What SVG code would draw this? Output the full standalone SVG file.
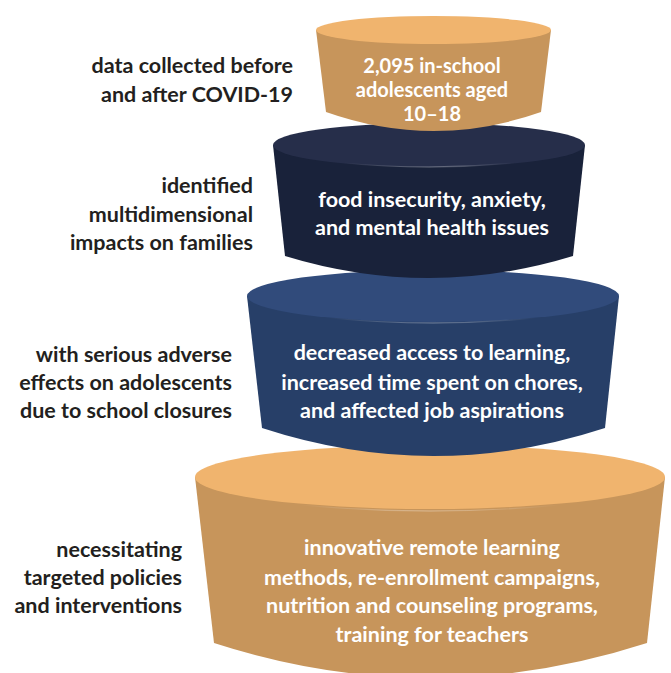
<svg xmlns="http://www.w3.org/2000/svg" width="671" height="673" viewBox="0 0 671 673">
  <style>
    .label { font-family: Lato, "Liberation Sans", sans-serif; font-weight: 700; font-size: 21.5px; fill: #231f20; text-anchor: end; }
    .inner { font-family: Lato, "Liberation Sans", sans-serif; font-weight: 700; font-size: 21.5px; fill: #ffffff; text-anchor: middle; }
    .inner.small { font-size: 20px; }
    .tan .body { fill: #c7955b; }
    .tan .top { fill: #f0b46e; }
    .navy .body { fill: #19223a; }
    .navy .top { fill: #262e4a; }
    .blue .body { fill: #273f68; }
    .blue .top { fill: #314b7b; }
    .rim { fill: none; stroke: url(#rimGlow); stroke-width: 1.2; }
  </style>
  <defs>
    <linearGradient id="rimGlow" x1="0" y1="0" x2="1" y2="0">
      <stop offset="0" stop-color="#ffffff" stop-opacity="0"/>
      <stop offset="0.5" stop-color="#ffffff" stop-opacity="0.35"/>
      <stop offset="1" stop-color="#ffffff" stop-opacity="0"/>
    </linearGradient>
  </defs>
  <rect width="671" height="673" fill="#ffffff"/>

  <!-- tiers are stacked bottom-up so each upper tier overlaps the rim below -->
  <g id="tier4" class="tan">
    <path class="body" d="M195,477 L214,643 Q430.5,713 647,643 L665,477 Z"/>
    <ellipse class="top" cx="430" cy="477" rx="235" ry="32"/>
    <path class="rim" d="M300,505 Q430,517 560,505"/>
    <text class="inner" x="432" y="555">innovative remote learning</text>
    <text class="inner" x="432" y="585">methods, re-enrollment campaigns,</text>
    <text class="inner" x="432" y="613">nutrition and counseling programs,</text>
    <text class="inner" x="432" y="642">training for teachers</text>
  </g>

  <g id="tier3" class="blue">
    <path class="body" d="M247,296 L262,428 Q433.5,484 605,428 L619,296 Z"/>
    <ellipse class="top" cx="433" cy="296" rx="186" ry="26"/>
    <path class="rim" d="M330,318 Q433,328 536,318"/>
    <text class="inner" x="432" y="360">decreased access to learning,</text>
    <text class="inner" x="432" y="390">increased time spent on chores,</text>
    <text class="inner" x="432" y="418">and affected job aspirations</text>
  </g>

  <g id="tier2" class="navy">
    <path class="body" d="M273,145 L285,256 Q429,300 573,256 L585,145 Z"/>
    <ellipse class="top" cx="429" cy="145" rx="156" ry="22"/>
    <path class="rim" d="M343,163 Q429,171 515,163"/>
    <text class="inner" x="432" y="207">food insecurity, anxiety,</text>
    <text class="inner" x="432" y="235">and mental health issues</text>
  </g>

  <g id="tier1" class="tan">
    <path class="body" d="M316,30 L326,112 Q433.5,150 541,112 L551,30 Z"/>
    <ellipse class="top" cx="433.5" cy="30" rx="117.5" ry="14"/>
    <text class="inner small" x="432" y="73">2,095 in-school</text>
    <text class="inner small" x="432" y="97">adolescents aged</text>
    <text class="inner small" x="432" y="121">10–18</text>
  </g>

  <!-- side captions -->
  <g id="caption1">
    <text class="label" x="293" y="73">data collected before</text>
    <text class="label" x="293" y="102">and after COVID-19</text>
  </g>
  <g id="caption2">
    <text class="label" x="253" y="193">identified</text>
    <text class="label" x="253" y="222">multidimensional</text>
    <text class="label" x="253" y="250">impacts on families</text>
  </g>
  <g id="caption3">
    <text class="label" x="232" y="362">with serious adverse</text>
    <text class="label" x="232" y="390">effects on adolescents</text>
    <text class="label" x="232" y="418">due to school closures</text>
  </g>
  <g id="caption4">
    <text class="label" x="182" y="557">necessitating</text>
    <text class="label" x="182" y="585">targeted policies</text>
    <text class="label" x="182" y="613">and interventions</text>
  </g>
</svg>
